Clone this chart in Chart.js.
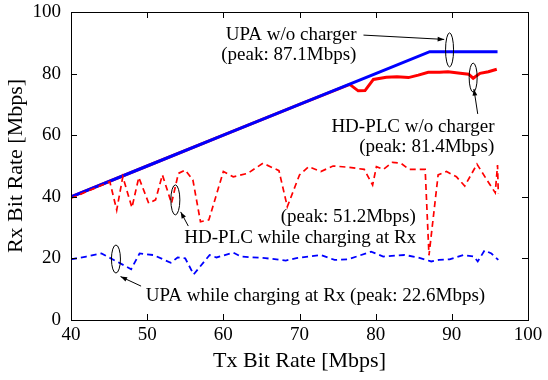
<!DOCTYPE html>
<html>
<head>
<meta charset="utf-8">
<script src="https://cdn.jsdelivr.net/npm/chart.js@4.4.1/dist/chart.umd.min.js"></script>
<style>
  html, body { margin: 0; padding: 0; background: #fff; }
  #wrap { width: 548px; height: 380px; }
</style>
</head>
<body>
<div id="wrap"><canvas id="c" width="548" height="380"></canvas></div>
<script>
// ---- data ----
const upaXs = [40, 50, 60, 70, 80, 87.1, 96];
const upaYs = [40, 50, 60, 70, 80, 87.1, 87.1];

const hdplcXs = [40, 50, 60, 70, 76.6, 77.7, 78.6, 79.7, 81.4, 82.8, 84.3, 85.6, 86.9, 88.4, 89.5, 91.1, 92.2, 92.8, 93.7, 94.8, 95.9];
const hdplcYs = [40, 50, 60, 70, 76.5, 74.4, 74.5, 78.1, 78.8, 79.0, 78.7, 79.5, 80.4, 80.4, 80.6, 80.1, 79.8, 78.5, 80.1, 80.6, 81.4];

const hdplcChgXs = [40, 45.1, 46.0, 46.8, 48.0, 48.9, 50.2, 51.1, 52.0, 53.2, 54.1, 55.0, 56.0, 57.0, 58.1, 60.0, 61.3, 63.2, 65.2, 67.3, 68.4, 70.0, 71.2, 72.8, 74.4, 76.4, 78.5, 79.6, 80.1, 81.0, 82.2, 83.3, 84.4, 86.5, 87.0, 88.2, 89.3, 90.6, 91.7, 93.3, 94.6, 95.7, 96.0, 96.1];
const hdplcChgYs = [39.5, 44.9, 35.7, 46.5, 36.5, 46.3, 37.9, 39.0, 47.1, 37.9, 47.6, 48.7, 45.5, 31.9, 32.5, 48.2, 46.5, 47.6, 50.9, 48.5, 36.8, 47.1, 49.8, 48.2, 50.0, 49.6, 48.9, 43.8, 49.8, 48.9, 51.2, 50.9, 48.9, 48.9, 21.0, 47.1, 48.2, 46.5, 43.5, 50.6, 45.5, 41.3, 50.3, 41.1];

const upaChgXs = [40, 42.0, 44.0, 46.0, 47.9, 49.0, 50.8, 53.1, 54.0, 55.0, 56.1, 58.2, 59.1, 61.3, 62.3, 65.5, 68.2, 69.6, 72.8, 74.6, 76.4, 79.4, 81.0, 83.8, 85.6, 87.3, 88.3, 89.7, 91.5, 92.9, 93.4, 94.3, 95.2, 96.1];
const upaChgYs = [19.7, 20.6, 21.6, 19.0, 16.5, 21.6, 21.1, 18.6, 20.3, 20.0, 14.8, 21.1, 20.3, 21.9, 20.6, 20.1, 19.3, 20.1, 21.1, 19.5, 19.7, 22.2, 20.6, 21.1, 20.3, 19.0, 19.5, 19.7, 21.1, 20.6, 19.0, 22.6, 21.6, 19.5];

const xTicks = [40, 50, 60, 70, 80, 90, 100];
const yTicks = [0, 20, 40, 60, 80, 100];
const xTitle = 'Tx Bit Rate [Mbps]';
const yTitle = 'Rx Bit Rate [Mbps]';

// annotation texts (anchored in data coordinates)
const noteTexts = ['UPA w/o charger', '(peak: 87.1Mbps)', 'HD-PLC w/o charger', '(peak: 81.4Mbps)',
                   '(peak: 51.2Mbps)', 'HD-PLC while charging at Rx', 'UPA while charging at Rx (peak: 22.6Mbps)'];
const noteAt = [[68.9, 92.5], [68.6, 86.0], [84.9, 62.7], [86.7, 56.2], [76.4, 33.4], [70.1, 26.6], [72.1, 7.8]];
const ellipseAt = [[89.7, 87.7, 4, 17], [92.8, 78.7, 4, 14.5], [53.7, 39.0, 4.5, 15], [45.9, 19.8, 4.5, 14]];
const arrowAt = [[78.4, 92.5, 89.0, 91.1], [93.4, 66.9, 92.9, 75.0], [55.4, 30.5, 54.4, 35.1], [49.2, 11.0, 46.5, 14.1]];

const SERIF = '"Liberation Serif", "DejaVu Serif", serif';
const pts = (xs, ys) => xs.map((x, i) => ({x: x, y: ys[i]}));

const frame = {
  id: 'frame',
  afterDraw(chart) {
    const ctx = chart.ctx, a = chart.chartArea;
    const xs = chart.scales.x, ys = chart.scales.y;
    ctx.save();
    ctx.strokeStyle = '#000';
    ctx.lineWidth = 1;
    ctx.strokeRect(Math.round(a.left) + 0.5, Math.round(a.top) + 0.5, Math.round(a.right - a.left), Math.round(a.bottom - a.top));
    const L = 6;
    ctx.beginPath();
    xTicks.forEach(v => {
      const p = Math.round(xs.getPixelForValue(v)) + 0.5;
      ctx.moveTo(p, a.bottom); ctx.lineTo(p, a.bottom - L);
      ctx.moveTo(p, a.top); ctx.lineTo(p, a.top + L);
    });
    yTicks.forEach(v => {
      const p = Math.round(ys.getPixelForValue(v)) + 0.5;
      ctx.moveTo(a.left, p); ctx.lineTo(a.left + L, p);
      ctx.moveTo(a.right, p); ctx.lineTo(a.right - L, p);
    });
    ctx.stroke();

    // annotations
    ctx.fillStyle = '#000';
    ctx.font = '19px ' + SERIF;
    ctx.textAlign = 'center';
    ctx.textBaseline = 'middle';
    noteTexts.forEach((t, i) => {
      ctx.fillText(t, xs.getPixelForValue(noteAt[i][0]), ys.getPixelForValue(noteAt[i][1]));
    });
    ctx.lineWidth = 1;
    ellipseAt.forEach(e => {
      ctx.beginPath();
      ctx.ellipse(xs.getPixelForValue(e[0]), ys.getPixelForValue(e[1]), e[2], e[3], 0, 0, Math.PI * 2);
      ctx.stroke();
    });
    arrowAt.forEach(r => {
      const x1 = xs.getPixelForValue(r[0]), y1 = ys.getPixelForValue(r[1]);
      const x2 = xs.getPixelForValue(r[2]), y2 = ys.getPixelForValue(r[3]);
      const ang = Math.atan2(y2 - y1, x2 - x1);
      ctx.beginPath(); ctx.moveTo(x1, y1); ctx.lineTo(x2, y2); ctx.stroke();
      ctx.beginPath();
      ctx.moveTo(x2, y2);
      ctx.lineTo(x2 - 7 * Math.cos(ang - 0.35), y2 - 7 * Math.sin(ang - 0.35));
      ctx.lineTo(x2 - 7 * Math.cos(ang + 0.35), y2 - 7 * Math.sin(ang + 0.35));
      ctx.closePath(); ctx.fill();
    });
    ctx.restore();
  }
};

new Chart(document.getElementById('c'), {
  type: 'line',
  data: {
    datasets: [
      { label: 'HD-PLC while charging at Rx', data: pts(hdplcChgXs, hdplcChgYs), borderColor: '#ff0000', borderWidth: 1.7, borderDash: [6, 4] },
      { label: 'UPA w/o charger', data: pts(upaXs, upaYs), borderColor: '#0000ff', borderWidth: 3 },
      { label: 'HD-PLC w/o charger', data: pts(hdplcXs, hdplcYs), borderColor: '#ff0000', borderWidth: 3 },
      { label: 'UPA while charging at Rx', data: pts(upaChgXs, upaChgYs), borderColor: '#0000ff', borderWidth: 1.8, borderDash: [6, 4] }
    ]
  },
  options: {
    responsive: false,
    animation: false,
    devicePixelRatio: 1,
    layout: { padding: { top: 12, right: 20, bottom: 0, left: 0 } },
    elements: { point: { radius: 0 }, line: { tension: 0, fill: false, borderCapStyle: 'butt' } },
    plugins: { legend: { display: false }, tooltip: { enabled: false } },
    scales: {
      x: {
        type: 'linear', min: 40, max: 100,
        afterBuildTicks: s => { s.ticks = xTicks.map(v => ({value: v})); },
        afterFit: s => { s.height = 60; s.paddingLeft = 0; s.paddingRight = 0; },
        grid: { display: false, drawTicks: false },
        border: { display: false },
        ticks: { color: '#000', font: { family: SERIF, size: 19 }, padding: 4, maxRotation: 0 },
        title: { display: true, text: xTitle, color: '#000', font: { family: SERIF, size: 22 }, padding: 6 }
      },
      y: {
        type: 'linear', min: 0, max: 100,
        afterBuildTicks: s => { s.ticks = yTicks.map(v => ({value: v})); },
        afterFit: s => { s.width = 71; s.paddingTop = 0; s.paddingBottom = 0; },
        grid: { display: false, drawTicks: false },
        border: { display: false },
        ticks: { color: '#000', font: { family: SERIF, size: 19 }, padding: 10 },
        title: { display: true, text: yTitle, color: '#000', font: { family: SERIF, size: 22 }, padding: { top: 3, bottom: 0 } }
      }
    }
  },
  plugins: [frame]
});
</script>
</body>
</html>
